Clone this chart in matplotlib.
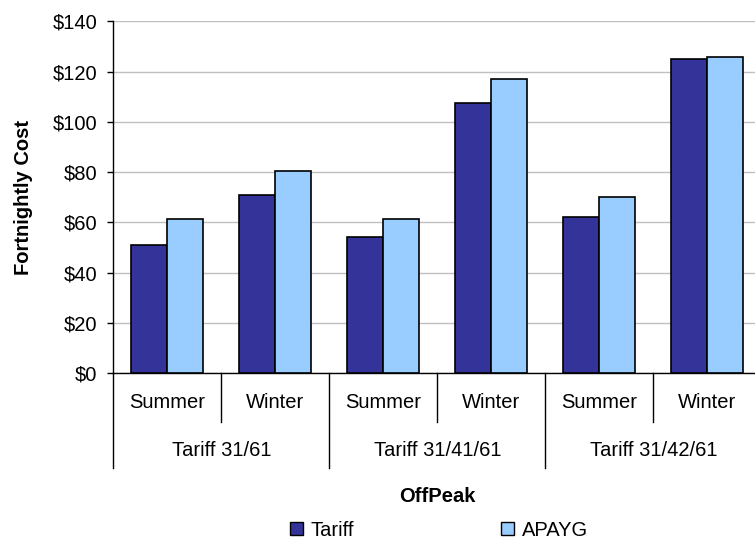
import matplotlib.pyplot as plt
from matplotlib.patches import Patch

plt.rcParams['font.family'] = ['Liberation Sans', 'DejaVu Sans']

seasons = ["Summer", "Winter", "Summer", "Winter", "Summer", "Winter"]
groups = ["Tariff 31/61", "Tariff 31/41/61", "Tariff 31/42/61"]
tariff = [51.0, 70.8, 54.1, 107.4, 62.0, 124.9]
apayg = [61.3, 80.3, 61.3, 116.9, 70.0, 125.7]
yticks = [0, 20, 40, 60, 80, 100, 120, 140]

dark = "#333399"
light = "#99CCFF"
fs = 14.5

fig = plt.figure(figsize=(7.55, 5.43), dpi=100)
ax = fig.add_axes([113.3 / 755, 1 - 373.3 / 543, 648 / 755, 352 / 543])

x = list(range(len(seasons)))
w = 1 / 3
ax.bar([i - w / 2 for i in x], tariff, width=w, color=dark, edgecolor="black", linewidth=1.2, zorder=3)
ax.bar([i + w / 2 for i in x], apayg, width=w, color=light, edgecolor="black", linewidth=1.2, zorder=3)

ax.set_xlim(-0.5, 5.5)
ax.set_ylim(0, 140)
ax.set_yticks(yticks)
ax.set_yticklabels(["$%d" % v for v in yticks], fontsize=fs)
ax.tick_params(axis="y", length=4.5, width=1, pad=7, color="black")
ax.set_xticks([])
ax.yaxis.grid(True, color="#c0c0c0", linewidth=1, zorder=0)
ax.set_axisbelow(True)
for s in ["top", "right"]:
    ax.spines[s].set_visible(False)
for s in ["left", "bottom"]:
    ax.spines[s].set_color("black")
    ax.spines[s].set_linewidth(1)

ax.set_ylabel("Fortnightly Cost", fontsize=fs, fontweight="bold")
ax.yaxis.set_label_coords(-0.124, 0.5)

# multi-level category axis
tr = ax.get_xaxis_transform()
for b in [0.5, 2.5, 4.5]:
    ax.plot([b, b], [0, -0.1375], color="black", lw=1, transform=tr, clip_on=False)
for b in [-0.5, 1.5, 3.5, 5.5]:
    ax.plot([b, b], [0, -0.27], color="black", lw=1, transform=tr, clip_on=False)
for i, s in enumerate(seasons):
    ax.text(i, -0.084, s, transform=tr, ha="center", va="center", fontsize=fs)
for g, name in enumerate(groups):
    ax.text(2 * g + 0.5, -0.218, name, transform=tr, ha="center", va="center", fontsize=fs)

fig.text(437 / 755, 1 - 496 / 543, "OffPeak", ha="center", va="center", fontsize=fs, fontweight="bold")

handles = [Patch(facecolor=dark, edgecolor="black", label="Tariff"),
           Patch(facecolor=light, edgecolor="black", label="APAYG")]
fig.legend(handles=handles, loc="center", bbox_to_anchor=(439 / 755, 1 - 530 / 543), ncol=2,
           frameon=False, fontsize=fs, handlelength=0.65, handleheight=0.65,
           handletextpad=0.4, columnspacing=7.3, borderpad=0)

fig.savefig("out.png", dpi=100)
